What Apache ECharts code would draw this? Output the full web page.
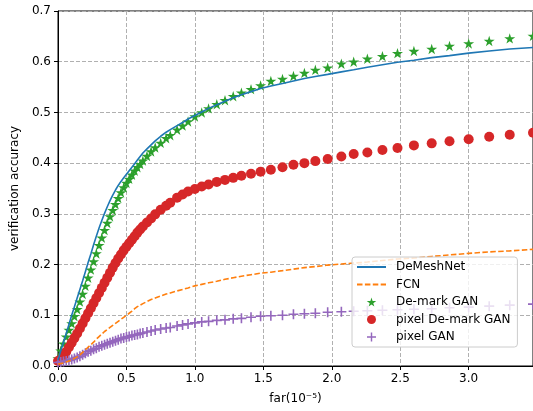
<!DOCTYPE html>
<html>
<head>
<meta charset="utf-8">
<script src="https://cdn.jsdelivr.net/npm/echarts@6/dist/echarts.min.js"></script>
<style>
  html, body { margin: 0; padding: 0; background: #fff; }
  #chart { width: 533px; height: 411px; }
</style>
</head>
<body>
<div id="chart"></div>
<script>
// far (x10^-5) sample points
const far = [
  0.00, 0.02, 0.04, 0.06, 0.08, 0.10, 0.12, 0.14, 0.16, 0.18,
  0.20, 0.22, 0.24, 0.26, 0.28, 0.30, 0.32, 0.34, 0.36, 0.38,
  0.40, 0.42, 0.44, 0.46, 0.48, 0.50, 0.52, 0.54, 0.56, 0.58,
  0.60, 0.62, 0.65, 0.68, 0.71, 0.75, 0.79, 0.82, 0.87, 0.91,
  0.95, 1.00, 1.05, 1.10, 1.16, 1.22, 1.28, 1.34, 1.41, 1.48,
  1.555, 1.64, 1.72, 1.80, 1.88, 1.97, 2.07, 2.16, 2.26, 2.37,
  2.48, 2.60, 2.73, 2.86, 3.00, 3.15, 3.30, 3.47
]

const deMeshNet = [
  0.012, 0.030, 0.047, 0.064, 0.082, 0.100, 0.117, 0.134, 0.151, 0.168,
  0.186, 0.204, 0.221, 0.239, 0.256, 0.272, 0.287, 0.301, 0.314, 0.326,
  0.337, 0.347, 0.356, 0.364, 0.371, 0.378, 0.385, 0.392, 0.399, 0.406,
  0.413, 0.420, 0.428, 0.436, 0.444, 0.453, 0.461, 0.466, 0.474, 0.480,
  0.487, 0.494, 0.501, 0.508, 0.515, 0.522, 0.529, 0.535, 0.541, 0.547,
  0.552, 0.557, 0.562, 0.567, 0.571, 0.575, 0.580, 0.584, 0.589, 0.594,
  0.599, 0.603, 0.608, 0.612, 0.617, 0.621, 0.625, 0.628
]

const fcn = [
  0.004, 0.005, 0.006, 0.008, 0.010, 0.012, 0.015, 0.018, 0.022, 0.027,
  0.032, 0.037, 0.042, 0.047, 0.053, 0.058, 0.063, 0.068, 0.072, 0.076,
  0.080, 0.084, 0.088, 0.092, 0.096, 0.100, 0.104, 0.108, 0.113, 0.117,
  0.120, 0.123, 0.127, 0.131, 0.134, 0.138, 0.142, 0.144, 0.148, 0.151,
  0.154, 0.158, 0.161, 0.164, 0.167, 0.171, 0.174, 0.177, 0.180, 0.183,
  0.185, 0.188, 0.191, 0.194, 0.196, 0.199, 0.201, 0.203, 0.205, 0.208,
  0.211, 0.213, 0.216, 0.219, 0.222, 0.225, 0.227, 0.230
]

const demarkGan = [
  0.015, 0.030, 0.044, 0.058, 0.071, 0.084, 0.098, 0.112, 0.127, 0.142,
  0.158, 0.174, 0.190, 0.206, 0.222, 0.238, 0.253, 0.268, 0.282, 0.295,
  0.307, 0.319, 0.331, 0.342, 0.352, 0.361, 0.369, 0.377, 0.385, 0.392,
  0.398, 0.405, 0.414, 0.423, 0.431, 0.440, 0.449, 0.455, 0.466, 0.474,
  0.482, 0.492, 0.500, 0.508, 0.516, 0.524, 0.532, 0.539, 0.546, 0.553,
  0.562, 0.566, 0.572, 0.578, 0.584, 0.588, 0.596, 0.600, 0.606, 0.611,
  0.617, 0.621, 0.625, 0.631, 0.636, 0.641, 0.646, 0.651
]

const pixelDemarkGan = [
  0.010, 0.013, 0.020, 0.028, 0.037, 0.046, 0.055, 0.064, 0.074, 0.084,
  0.094, 0.104, 0.114, 0.124, 0.134, 0.144, 0.154, 0.164, 0.174, 0.184,
  0.194, 0.203, 0.212, 0.220, 0.228, 0.235, 0.242, 0.249, 0.256, 0.263,
  0.269, 0.275, 0.283, 0.291, 0.299, 0.308, 0.316, 0.322, 0.332, 0.338,
  0.344, 0.349, 0.354, 0.358, 0.363, 0.367, 0.371, 0.375, 0.379, 0.383,
  0.387, 0.392, 0.397, 0.400, 0.404, 0.408, 0.413, 0.418, 0.421, 0.426,
  0.430, 0.435, 0.439, 0.443, 0.447, 0.452, 0.456, 0.460
]

const pixelGan = [
  0.007, 0.008, 0.009, 0.010, 0.011, 0.013, 0.015, 0.017, 0.019, 0.022,
  0.025, 0.028, 0.030, 0.033, 0.035, 0.038, 0.040, 0.042, 0.044, 0.046,
  0.048, 0.050, 0.052, 0.054, 0.055, 0.057, 0.058, 0.060, 0.061, 0.062,
  0.064, 0.065, 0.067, 0.069, 0.071, 0.073, 0.075, 0.076, 0.079, 0.081,
  0.083, 0.085, 0.087, 0.088, 0.090, 0.091, 0.093, 0.094, 0.096, 0.098,
  0.099, 0.100, 0.102, 0.103, 0.104, 0.106, 0.107, 0.108, 0.109, 0.110,
  0.111, 0.112, 0.113, 0.115, 0.116, 0.118, 0.120, 0.122
]

const pairs = (ys) => far.map((x, i) => [x, ys[i]])

const FONT = 'DejaVu Sans'
const STAR = 'path://M50,0 L61,35 L98,35 L68,57 L79,91 L50,70 L21,91 L32,57 L2,35 L39,35 Z'
const PLUS = 'path://M4.2,0 H5.8 V4.2 H10 V5.8 H5.8 V10 H4.2 V5.8 H0 V4.2 H4.2 Z'

const chart = echarts.init(document.getElementById('chart'), null, { renderer: 'canvas' })

chart.setOption({
  animation: false,
  textStyle: { fontFamily: FONT },
  grid: {
    left: 58, top: 11, right: -1, bottom: 45,
    show: true, borderColor: '#000', borderWidth: 1, backgroundColor: 'transparent'
  },
  legend: {
    orient: 'vertical',
    left: 352, top: 257,
    padding: [4, 7, 4, 4],
    itemGap: 5.5,
    itemWidth: 29,
    itemHeight: 9,
    backgroundColor: 'rgba(255,255,255,0.8)',
    borderColor: '#cccccc',
    borderWidth: 1,
    borderRadius: 3,
    textStyle: { fontFamily: FONT, fontSize: 12, color: '#000', padding: [0, 0, 0, 5] },
    data: [
      // line entries: hide the marker ECharts puts in the middle of the handle
      { name: 'DeMeshNet', itemStyle: { opacity: 0 } },
      { name: 'FCN', itemStyle: { opacity: 0 } },
      'De-mark GAN', 'pixel De-mark GAN', 'pixel GAN'
    ]
  },
  xAxis: {
    type: 'value',
    min: 0, max: 3.47, interval: 0.5,
    name: 'far(10⁻⁵)',
    nameLocation: 'middle',
    nameGap: 27,
    nameTextStyle: { fontFamily: FONT, fontSize: 12, color: '#000' },
    axisLine: { show: true, lineStyle: { color: '#000', width: 1 } },
    axisTick: { show: true, length: 4, lineStyle: { color: '#000' } },
    axisLabel: {
      margin: 7, fontFamily: FONT, fontSize: 12, color: '#000', showMaxLabel: false,
      formatter: (v) => (Math.abs(v / 0.5 - Math.round(v / 0.5)) < 1e-6 ? v.toFixed(1) : '')
    },
    splitLine: { show: true, lineStyle: { color: '#b0b0b0', width: 1, type: [4, 2] } }
  },
  yAxis: {
    type: 'value',
    min: 0, max: 0.7, interval: 0.1,
    name: 'verification accuracy',
    nameLocation: 'middle',
    nameGap: 36,
    nameTextStyle: { fontFamily: FONT, fontSize: 12, color: '#000' },
    axisLine: { show: true, lineStyle: { color: '#000', width: 1 } },
    axisTick: { show: true, length: 4, lineStyle: { color: '#000' } },
    axisLabel: { margin: 7, fontFamily: FONT, fontSize: 12, color: '#000', formatter: (v) => v.toFixed(1) },
    splitLine: { show: true, lineStyle: { color: '#b0b0b0', width: 1, type: [4, 2] } }
  },
  series: [
    {
      name: 'DeMeshNet', type: 'line', data: pairs(deMeshNet),
      symbol: 'none', showSymbol: false,
      lineStyle: { color: '#1f77b4', width: 1.6 },
      itemStyle: { color: '#1f77b4' }
    },
    {
      name: 'FCN', type: 'line', data: pairs(fcn),
      symbol: 'none', showSymbol: false,
      lineStyle: { color: '#ff7f0e', width: 1.6, type: [5.5, 2.4] },
      itemStyle: { color: '#ff7f0e' }
    },
    {
      name: 'De-mark GAN', type: 'scatter', data: pairs(demarkGan),
      symbol: STAR, symbolSize: 11, symbolKeepAspect: true,
      itemStyle: { color: '#2ca02c', opacity: 1 }
    },
    {
      name: 'pixel De-mark GAN', type: 'scatter', data: pairs(pixelDemarkGan),
      symbol: 'circle', symbolSize: 10,
      itemStyle: { color: '#d62728', opacity: 1 }
    },
    {
      name: 'pixel GAN', type: 'scatter', data: pairs(pixelGan),
      symbol: PLUS, symbolSize: 10, symbolKeepAspect: true,
      itemStyle: { color: '#9467bd', opacity: 1 }
    }
  ]
})
</script>
</body>
</html>
